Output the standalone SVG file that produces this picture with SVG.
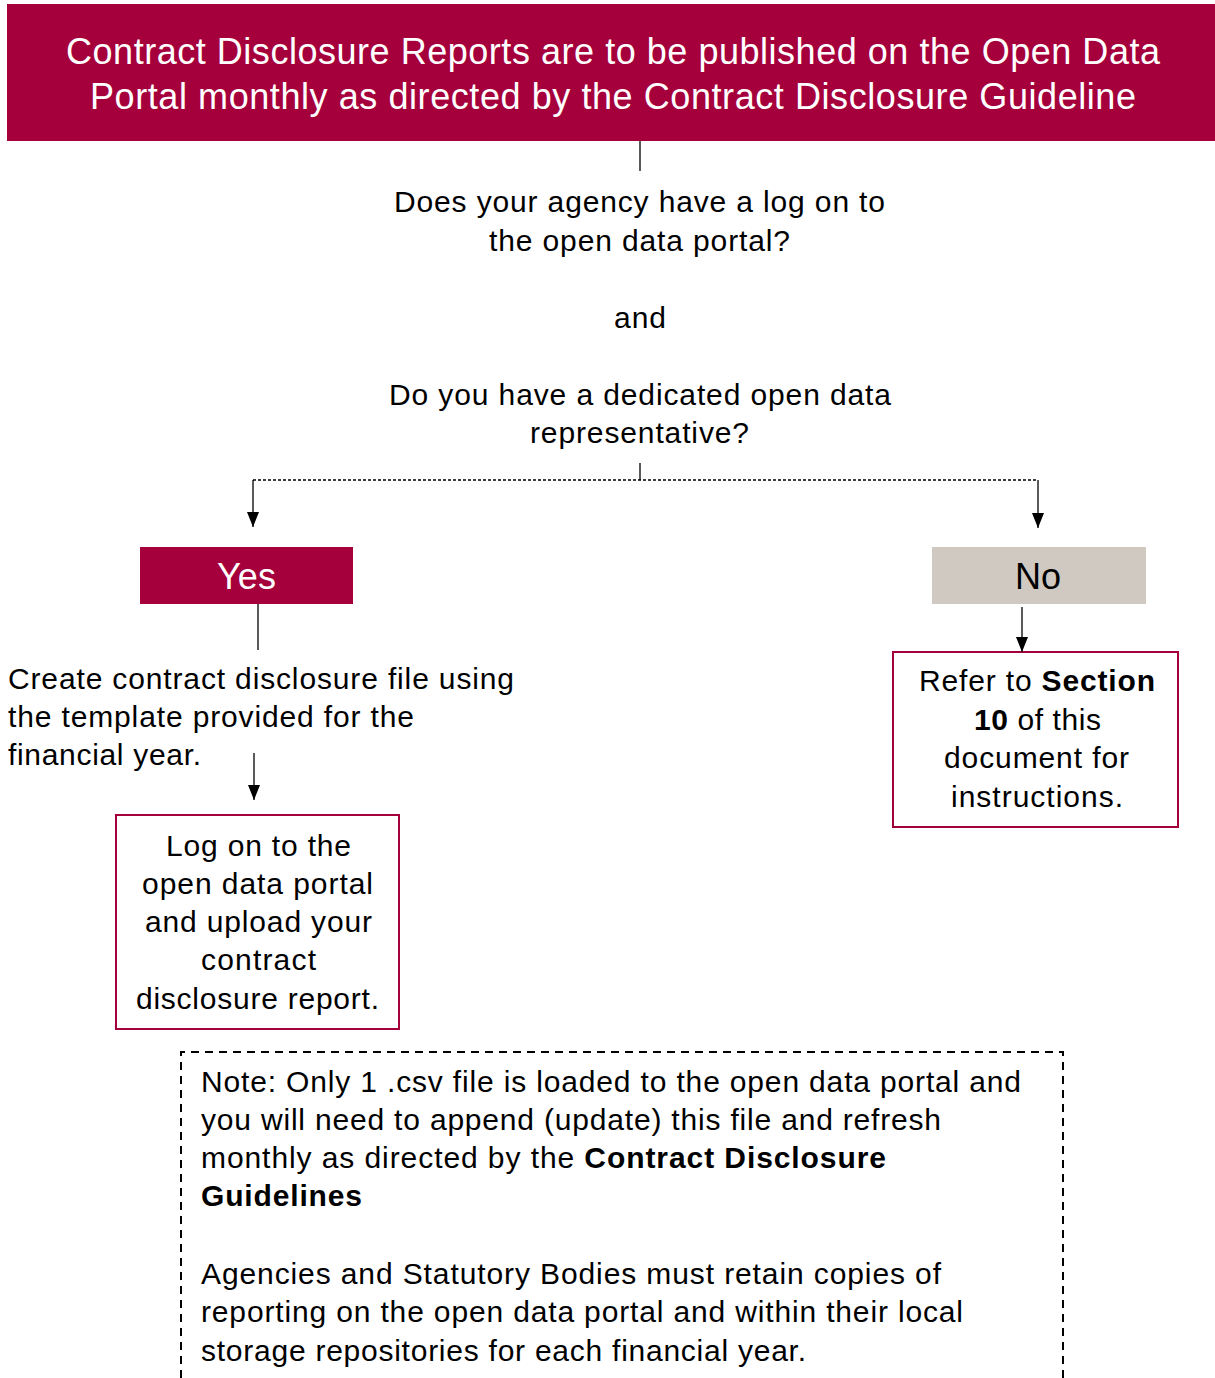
<svg xmlns="http://www.w3.org/2000/svg" width="1215" height="1378" viewBox="0 0 1215 1378">
<defs>
<marker id="ah" viewBox="0 0 15 12" refX="15" refY="6" markerWidth="15" markerHeight="12" markerUnits="userSpaceOnUse" orient="auto">
<path d="M0,0 L15,6 L0,12 z" fill="#000"/>
</marker>
<style>
text{font-family:"Liberation Sans",Arial,sans-serif;fill:#000}
.t{font-size:30px}
.c{text-anchor:middle}
.b{font-weight:bold}
.w{fill:#fff}
.ln{stroke:#000;stroke-width:1.3;fill:none}
.box{fill:#fff;stroke:#A6003C;stroke-width:2}
</style>
</defs>
<g id="header">
<rect x="7" y="4" width="1208" height="137" fill="#A6003C"/>
<text class="w" x="66" y="64" font-size="36" textLength="1094" lengthAdjust="spacing">Contract Disclosure Reports are to be published on the Open Data</text>
<text class="w" x="90" y="109" font-size="36" textLength="1046" lengthAdjust="spacing">Portal monthly as directed by the Contract Disclosure Guideline</text>
</g>
<g id="question">
<text class="t" x="394" y="212" textLength="491" lengthAdjust="spacing">Does your agency have a log on to</text>
<text class="t" x="489" y="251" textLength="301" lengthAdjust="spacing">the open data portal?</text>
<text class="t" x="614" y="328" textLength="52" lengthAdjust="spacing">and</text>
<text class="t" x="389" y="405" textLength="502" lengthAdjust="spacing">Do you have a dedicated open data</text>
<text class="t" x="530" y="443" textLength="219" lengthAdjust="spacing">representative?</text>
</g>
<g id="yes">
<rect x="140" y="547" width="213" height="57" fill="#A6003C"/>
<text class="w" x="217" y="589" font-size="36" textLength="59" lengthAdjust="spacing">Yes</text>
</g>
<g id="no">
<rect x="932" y="547" width="214" height="57" fill="#CFC9C2"/>
<text x="1015" y="589" font-size="36" textLength="46" lengthAdjust="spacing">No</text>
</g>
<g id="create">
<text class="t" x="8" y="689" textLength="506" lengthAdjust="spacing">Create contract disclosure file using</text>
<text class="t" x="8" y="727" textLength="406" lengthAdjust="spacing">the template provided for the</text>
<text class="t" x="8" y="765" textLength="193" lengthAdjust="spacing">financial year.</text>
</g>
<g id="upload">
<rect class="box" x="116" y="815" width="283" height="214"/>
<text class="t" x="166" y="856" textLength="185" lengthAdjust="spacing">Log on to the</text>
<text class="t" x="142" y="894" textLength="231" lengthAdjust="spacing">open data portal</text>
<text class="t" x="145" y="932" textLength="227" lengthAdjust="spacing">and upload your</text>
<text class="t" x="201" y="970" textLength="115" lengthAdjust="spacing">contract</text>
<text class="t" x="136" y="1009" textLength="243" lengthAdjust="spacing">disclosure report.</text>
</g>
<g id="section10">
<rect class="box" x="893" y="652" width="285" height="175"/>
<text class="t" x="919" y="691" textLength="236" lengthAdjust="spacing">Refer to <tspan class="b">Section</tspan></text>
<text class="t" x="974" y="730" textLength="127" lengthAdjust="spacing"><tspan class="b">10</tspan> of this</text>
<text class="t" x="944" y="768" textLength="185" lengthAdjust="spacing">document for</text>
<text class="t" x="951" y="807" textLength="172" lengthAdjust="spacing">instructions.</text>
</g>
<g id="note">
<path d="M181,1378 V1052 H1063 V1378" fill="none" stroke="#000" stroke-width="2" stroke-dasharray="8,6"/>
<text class="t" x="201" y="1092" textLength="820" lengthAdjust="spacing">Note: Only 1 .csv file is loaded to the open data portal and</text>
<text class="t" x="201" y="1130" textLength="740" lengthAdjust="spacing">you will need to append (update) this file and refresh</text>
<text class="t" x="201" y="1168" textLength="685" lengthAdjust="spacing">monthly as directed by the <tspan class="b">Contract Disclosure</tspan></text>
<text class="t b" x="201" y="1206" textLength="161" lengthAdjust="spacing">Guidelines</text>
<text class="t" x="201" y="1284" textLength="740" lengthAdjust="spacing">Agencies and Statutory Bodies must retain copies of</text>
<text class="t" x="201" y="1322" textLength="762" lengthAdjust="spacing">reporting on the open data portal and within their local</text>
<text class="t" x="201" y="1361" textLength="605" lengthAdjust="spacing">storage repositories for each financial year.</text>
</g>
<g id="connectors">
<line class="ln" x1="640" y1="141" x2="640" y2="171"/>
<line class="ln" x1="640" y1="463" x2="640" y2="480"/>
<path class="ln" d="M253,480 H1038" stroke-dasharray="3,2"/>
<line class="ln" x1="253" y1="480" x2="253" y2="527" marker-end="url(#ah)"/>
<line class="ln" x1="1038" y1="480" x2="1038" y2="528" marker-end="url(#ah)"/>
<line class="ln" x1="258" y1="604" x2="258" y2="650"/>
<line class="ln" x1="254" y1="753" x2="254" y2="800" marker-end="url(#ah)"/>
<line class="ln" x1="1022" y1="607" x2="1022" y2="652" marker-end="url(#ah)"/>
</g>
</svg>
